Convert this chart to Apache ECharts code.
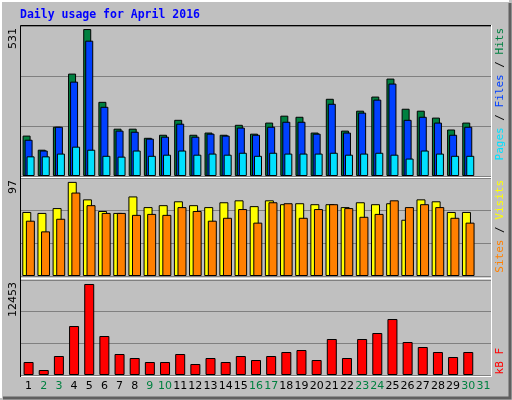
<!DOCTYPE html>
<html><head><meta charset="utf-8">
<script src="https://cdn.jsdelivr.net/npm/echarts@6/dist/echarts.min.js"></script>
<style>html,body{margin:0;padding:0;background:#c0c0c0}#c{width:512px;height:400px}</style>
</head><body><div id="c"></div>
<script>
const days = ['1','2','3','4','5','6','7','8','9','10','11','12','13','14','15','16','17','18','19','20','21','22','23','24','25','26','27','28','29','30','31'];
const weekend = ['2','3','9','10','16','17','23','24','30','31'];
const hits  = [146,95,178,370,531,268,171,171,138,149,203,149,157,149,185,153,193,218,214,157,279,164,236,287,352,243,236,211,168,193,null];
const files = [131,92,178,341,489,250,164,160,135,142,189,142,153,146,175,149,178,196,196,153,261,157,229,276,334,203,214,193,149,178,null];
const pages = [71,71,81,106,95,73,70,92,73,77,92,77,81,77,84,73,84,81,81,81,84,77,81,84,77,63,92,81,73,73,null];
const visits= [66,65,70,97,79,67,65,82,71,73,77,73,71,76,78,72,78,74,75,74,74,71,76,74,75,58,79,77,66,66,null];
const sites = [57,46,59,86,73,65,65,63,64,63,71,67,57,60,69,55,76,75,60,69,74,70,61,64,78,71,74,71,60,55,null];
const kbytes= [1778,684,2599,6703,12453,5335,2873,2326,1778,1778,2873,1505,2326,1778,2599,2052,2599,3146,3420,2052,4925,2326,4925,5746,7661,4514,3830,3146,2462,3146,null];

const ch = echarts.init(document.getElementById('c'));
const B = {borderColor:'#000',borderWidth:1};
const split = {show:true,lineStyle:{color:'#808080',width:1}};
function yax(i,max){return {gridIndex:i,min:0,max:max,interval:max/3,axisLabel:{show:false},axisLine:{show:false},axisTick:{show:false},splitLine:split};}
function xax(i,lab){return {type:'category',gridIndex:i,data:days,axisLine:{show:false},axisTick:{show:false},
  axisLabel:lab?{show:true,interval:0,fontFamily:'DejaVu Sans',fontSize:11,margin:6,color:function(v){return weekend.indexOf(v)>=0?'#008040':'#000';}}:{show:false}};}
function rt(x,y,rich,text){return {type:'text',x:x,y:y,rotation:Math.PI/2,style:{text:text,rich:rich,align:'right',verticalAlign:'middle',font:'11px "DejaVu Sans Mono"'}};}
const mono='11px "DejaVu Sans Mono"';
ch.setOption({
  backgroundColor:'#c0c0c0',animation:false,
  grid:[{left:21,right:21,top:26,height:150},{left:21,right:21,top:178,height:98},{left:21,right:21,top:280,height:95}],
  xAxis:[xax(0,false),xax(1,false),xax(2,true)],
  yAxis:[yax(0,542),yax(1,101),yax(2,13000)],
  series:[
    {type:'bar',name:'Hits',data:hits,xAxisIndex:0,yAxisIndex:0,barWidth:8,barGap:'-75%',itemStyle:Object.assign({color:'#008040'},B)},
    {type:'bar',name:'Files',data:files,xAxisIndex:0,yAxisIndex:0,barWidth:8,barGap:'-75%',itemStyle:Object.assign({color:'#0040ff'},B)},
    {type:'bar',name:'Pages',data:pages,xAxisIndex:0,yAxisIndex:0,barWidth:8,barGap:'-75%',itemStyle:Object.assign({color:'#00e0ff'},B)},
    {type:'bar',name:'Visits',data:visits,xAxisIndex:1,yAxisIndex:1,barWidth:9,barGap:'-60%',itemStyle:Object.assign({color:'#ffff00'},B)},
    {type:'bar',name:'Sites',data:sites,xAxisIndex:1,yAxisIndex:1,barWidth:9,barGap:'-60%',itemStyle:Object.assign({color:'#ff8000'},B)},
    {type:'bar',name:'kB F',data:kbytes,xAxisIndex:2,yAxisIndex:2,barWidth:10,itemStyle:Object.assign({color:'#ff0000'},B)}
  ],
  graphic:[
    {type:'polyline',shape:{points:[[1,398],[1,1],[509,1]]},style:{stroke:'#fff',lineWidth:2,fill:null}},
    {type:'polyline',shape:{points:[[3,398],[510,398],[510,3]]},style:{stroke:'#606060',lineWidth:3,fill:null}},
    {type:'polyline',shape:{points:[[20.5,377],[20.5,25.5],[491,25.5]]},style:{stroke:'#000',lineWidth:1,fill:null}},
    {type:'polyline',shape:{points:[[21,376.5],[491.5,376.5],[491.5,25]]},style:{stroke:'#fff',lineWidth:1,fill:null}},
    {type:'line',shape:{x1:21,y1:177.5,x2:491,y2:177.5},style:{stroke:'#fff',lineWidth:1.5}},
    {type:'line',shape:{x1:21,y1:278.5,x2:491,y2:278.5},style:{stroke:'#fff',lineWidth:1.5}},
    {type:'text',x:20,y:15,style:{text:'Daily usage for April 2016',font:'bold 11.5px "DejaVu Sans Mono"',fill:'#0000ff',verticalAlign:'middle'}},
    {type:'text',x:13,y:28,rotation:Math.PI/2,style:{text:'531',font:'11px "DejaVu Sans"',fill:'#000',align:'right',verticalAlign:'middle'}},
    {type:'text',x:13,y:180,rotation:Math.PI/2,style:{text:'97',font:'11px "DejaVu Sans"',fill:'#000',align:'right',verticalAlign:'middle'}},
    {type:'text',x:13,y:282,rotation:Math.PI/2,style:{text:'12453',font:'11px "DejaVu Sans"',fill:'#000',align:'right',verticalAlign:'middle'}},
    {type:'text',x:500,y:28,rotation:Math.PI/2,style:{text:'{p|Pages}{s| / }{f|Files}{s| / }{h|Hits}',align:'right',verticalAlign:'middle',
      rich:{p:{fill:'#00e0ff',font:mono},s:{fill:'#000',font:mono},f:{fill:'#0040ff',font:mono},h:{fill:'#008040',font:mono}}}},
    {type:'text',x:500,y:180,rotation:Math.PI/2,style:{text:'{a|Sites}{s| / }{b|Visits}',align:'right',verticalAlign:'middle',
      rich:{a:{fill:'#ff8000',font:mono},s:{fill:'#000',font:mono},b:{fill:'#ffff00',font:mono}}}},
    {type:'text',x:500,y:348,rotation:Math.PI/2,style:{text:'kB F',font:mono,fill:'#ff0000',align:'right',verticalAlign:'middle'}}
  ]
});
</script></body></html>
